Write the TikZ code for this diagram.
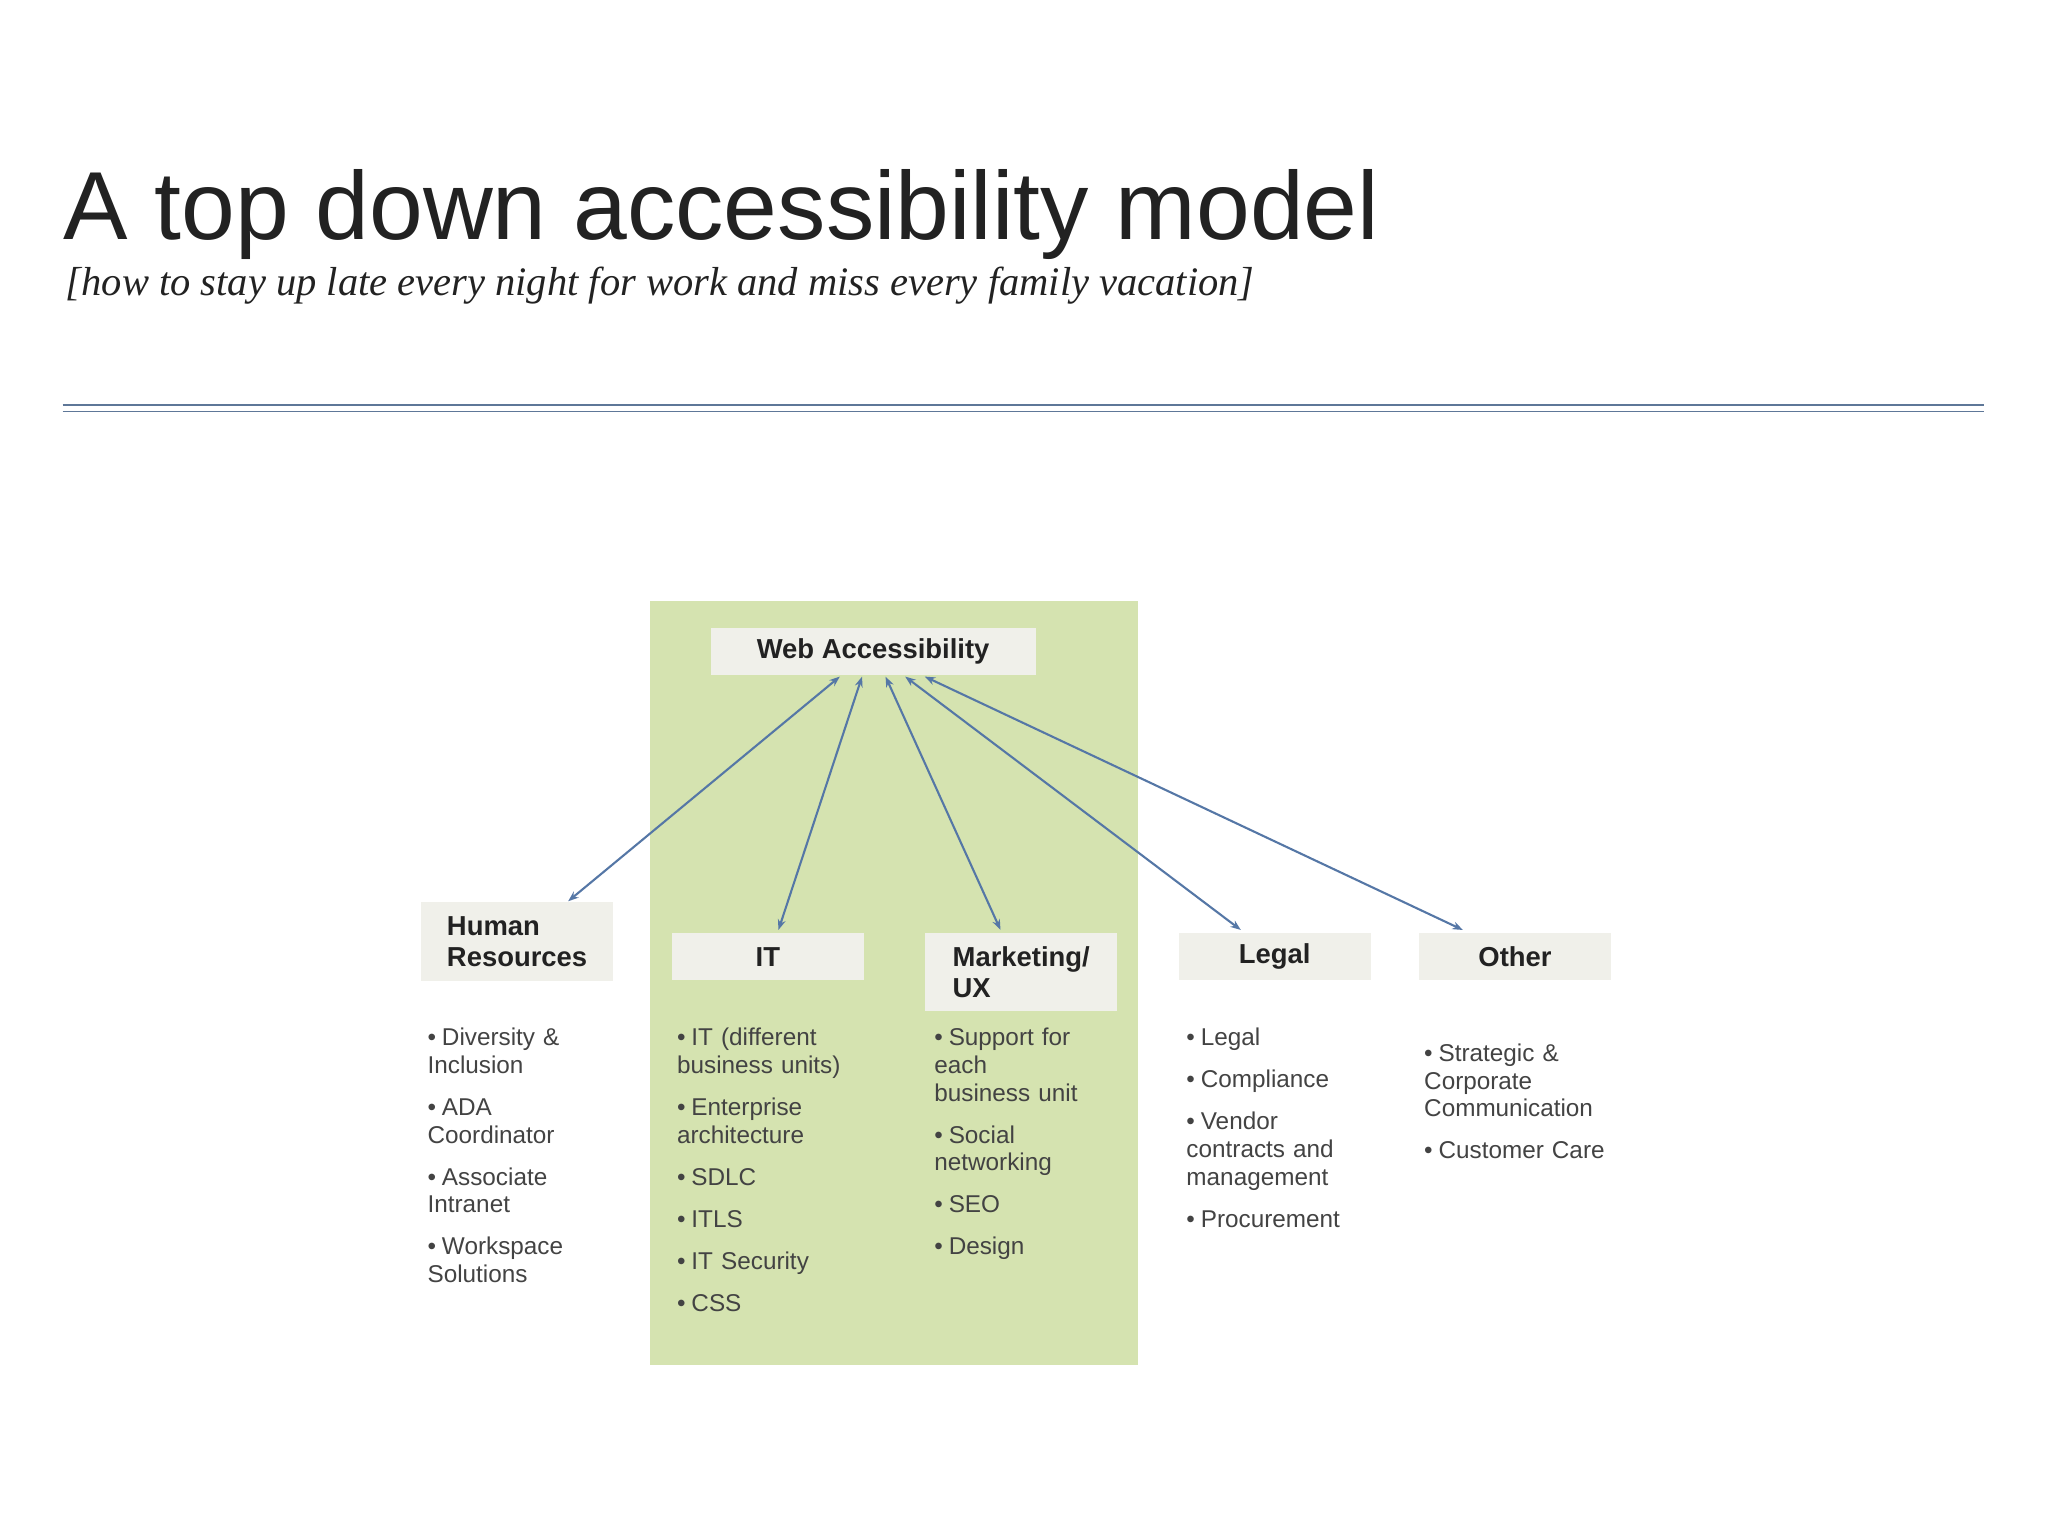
\documentclass[tikz,border=0pt]{standalone}
\usepackage{fontspec}
\setmainfont{Liberation Sans}
\newfontfamily\scriptf{Liberation Serif}
\usetikzlibrary{arrows.meta}
\definecolor{gbg}{HTML}{D5E3B0}
\definecolor{boxbg}{HTML}{F0F0EA}
\definecolor{arr}{HTML}{5577A6}
\definecolor{rule}{HTML}{5E7798}
\definecolor{txt}{HTML}{222222}
\newcommand\bul[1]{\par\hangindent=5.5pt\hangafter=1\noindent\makebox[5.5pt][l]{\textbullet}#1\par\vspace{5.5pt}}
\begin{document}
\begin{tikzpicture}[x=0.5pt,y=-0.5pt,
  hd/.style={fill=boxbg,anchor=north west,minimum width=73.5pt,align=left,font=\bfseries\fontsize{10.5}{12}\selectfont,inner xsep=5pt,inner ysep=3pt,text=txt},
  lst/.style={anchor=north west,inner sep=0pt,text width=80pt,align=left,font=\fontsize{9.3}{10.6}\selectfont,text=txt!85},
  ar/.style={arr,line width=0.8pt,{Stealth[length=4pt,width=3pt]}-{Stealth[length=4pt,width=3pt]}}]
\fill[white] (0,0) rectangle (1568,1176);
\node[anchor=base west,inner sep=0,font=\fontsize{37}{40}\selectfont,text=txt] (title) at (48,183) {A top down accessibility model};
\node[anchor=base west,inner sep=0,font=\scriptf\itshape\fontsize{15.5}{18}\selectfont,text=txt] (sub) at (50,226) {[how to stay up late every night for work and miss every family vacation]};
\draw[rule,line width=0.7pt] (48,310) -- (1519,310);
\draw[rule,line width=0.7pt] (48,315) -- (1519,315);
\fill[gbg] (498,460) rectangle (871,1045);
\node[fill=boxbg,minimum width=124.5pt,minimum height=18pt,font=\bfseries\fontsize{10.5}{12}\selectfont,text=txt] (web) at (668.5,499) {Web Accessibility};
\node[hd,minimum height=30.5pt] (hr) at (322,690) {Human\\Resources};
\node[hd,minimum height=18pt] (it) at (514,714) {IT};
\node[hd,minimum height=30pt] (mkt) at (708,714) {Marketing/\\UX};
\node[hd,minimum height=18pt] (legal) at (902,714) {Legal};
\node[hd,minimum height=18pt] (other) at (1086,714) {Other};
\coordinate (w1) at (643,518); \coordinate (w2) at (660,518); \coordinate (w3) at (678,518);
\coordinate (w4) at (693,518); \coordinate (w5) at (708,518);
\coordinate (e1) at (435,690); \coordinate (e2) at (596,712); \coordinate (e3) at (766,712);
\coordinate (e4) at (950,712); \coordinate (e5) at (1120,712);
\draw[ar] (w1) -- (e1); \draw[ar] (w2) -- (e2); \draw[ar] (w3) -- (e3);
\draw[ar] (w4) -- (e4); \draw[ar] (w5) -- (e5);
\node[lst] (hrl) at (327,779) {\bul{Diversity \&\\Inclusion}\bul{ADA\\Coordinator}\bul{Associate\\Intranet}\bul{Workspace\\Solutions}};
\node[lst] (itl) at (518,779) {\bul{IT (different\\business units)}\bul{Enterprise\\architecture}\bul{SDLC}\bul{ITLS}\bul{IT Security}\bul{CSS}};
\node[lst] (mktl) at (715,779) {\bul{Support for\\each\\business unit}\bul{Social\\networking}\bul{SEO}\bul{Design}};
\node[lst] (legl) at (908,779) {\bul{Legal}\bul{Compliance}\bul{Vendor\\contracts and\\management}\bul{Procurement}};
\node[lst] (othl) at (1090,791) {\bul{Strategic \&\\Corporate\\Communication}\bul{Customer Care}};
\end{tikzpicture}
\end{document}
